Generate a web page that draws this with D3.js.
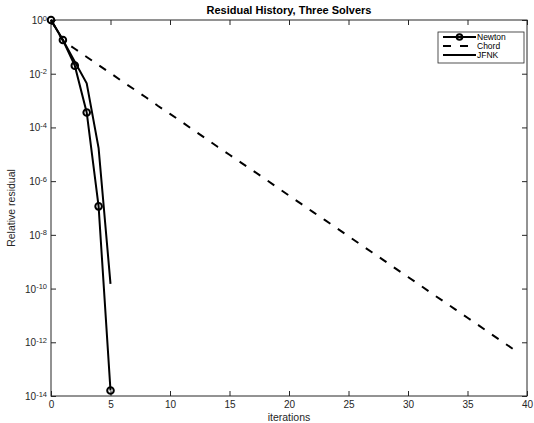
<!DOCTYPE html>
<html><head><meta charset="utf-8">
<script src="https://cdn.jsdelivr.net/npm/d3@7/dist/d3.min.js"></script>
<style>
body{margin:0;background:#fff;}
svg{display:block;font-family:"Liberation Sans",Arial,Helvetica,sans-serif;}
</style></head>
<body><svg id="c" width="534" height="423"></svg>
<script>
const iterNewton = [0,1,2,3,4,5];
const newton = [1, 0.18, 0.02, 3.6e-4, 1.15e-7, 1.6e-14];
const iterJFNK = [0,1,2,3,4,5];
const jfnk = [1, 0.18, 0.028, 4.4e-3, 1.7e-5, 1.5e-10];
const iterChord = [0,1,2,3,4,5,6,7,8,9,10,11,12,13,14,15,16,17,18,19,20,21,22,23,24,25,26,27,28,29,30,31,32,33,34,35,36,37,38,39];
const chord = [1, 0.17, 8.5e-2, 4.2e-2, 2.1e-2, 1.05e-2, 5.1e-3, 2.6e-3, 1.3e-3, 6.3e-4,
  3.2e-4, 1.6e-4, 7.8e-5, 3.9e-5, 1.9e-5, 9.6e-6, 4.8e-6, 2.4e-6, 1.2e-6, 5.9e-7,
  2.9e-7, 1.45e-7, 7.2e-8, 3.6e-8, 1.8e-8, 8.9e-9, 4.4e-9, 2.2e-9, 1.1e-9, 5.4e-10,
  2.7e-10, 1.35e-10, 6.6e-11, 3.3e-11, 1.65e-11, 8.2e-12, 4.1e-12, 2.0e-12, 1.0e-12, 5.0e-13];
const xTicks = [0,5,10,15,20,25,30,35,40];
const yTickExps = [0,-2,-4,-6,-8,-10,-12,-14];
const seriesNames = ["Newton","Chord","JFNK"];
const title = "Residual History, Three Solvers";
const xLabel = "iterations";
const yLabel = "Relative residual";

const L=51, R=527, T=20, B=396;
const axisColor="#262626";
const svg=d3.select("#c");
const x=d3.scaleLinear().domain([0,40]).range([L,R]);
const y=d3.scaleLog().domain([1e-14,1]).range([B,T]);

// frame
svg.append("rect").attr("x",L).attr("y",T).attr("width",R-L).attr("height",B-T)
  .attr("fill","none").attr("stroke",axisColor).attr("stroke-width",1);

// bottom axis
const gx=svg.append("g").attr("transform",`translate(0,${B})`)
  .call(d3.axisBottom(x).tickValues(xTicks).tickSizeInner(-5).tickSizeOuter(0).tickPadding(5).tickFormat(d3.format("d")));
gx.select(".domain").remove();
gx.selectAll("line").attr("stroke",axisColor);
gx.selectAll("text").attr("fill",axisColor).attr("font-size","10px").attr("font-family","Liberation Sans, Arial, sans-serif");
// top ticks
const gt=svg.append("g").attr("transform",`translate(0,${T})`)
  .call(d3.axisTop(x).tickValues(xTicks).tickSizeInner(-5).tickSizeOuter(0).tickFormat(""));
gt.select(".domain").remove();
gt.selectAll("line").attr("stroke",axisColor);

// left axis
const yTicks=yTickExps.map(e=>Math.pow(10,e));
const gy=svg.append("g").attr("transform",`translate(${L},0)`)
  .call(d3.axisLeft(y).tickValues(yTicks).tickSizeInner(-5).tickSizeOuter(0).tickFormat(""));
gy.select(".domain").remove();
gy.selectAll("line").attr("stroke",axisColor);
gy.selectAll(".tick").each(function(d,i){
  const t=d3.select(this).append("text").attr("fill",axisColor).attr("x",-4).attr("dy","0.35em")
    .attr("text-anchor","end").attr("font-size","10px").attr("font-family","Liberation Sans, Arial, sans-serif");
  t.append("tspan").text("10");
  t.append("tspan").attr("dy","-0.45em").attr("font-size","7.5px").text(String(yTickExps[i]));
});
const gr=svg.append("g").attr("transform",`translate(${R},0)`)
  .call(d3.axisRight(y).tickValues(yTicks).tickSizeInner(-5).tickSizeOuter(0).tickFormat(""));
gr.select(".domain").remove();
gr.selectAll("line").attr("stroke",axisColor);

// labels
svg.append("text").attr("x",(L+R)/2).attr("y",14).attr("text-anchor","middle")
  .attr("font-weight","bold").attr("font-size","11px").attr("fill","#000").text(title);
svg.append("text").attr("x",(L+R)/2).attr("y",421).attr("text-anchor","middle")
  .attr("font-size","10.5px").attr("fill",axisColor).text(xLabel);
svg.append("text").attr("transform",`translate(15,${(T+B)/2}) rotate(-90)`).attr("text-anchor","middle")
  .attr("font-size","10.5px").attr("fill",axisColor).text(yLabel);

const line=d3.line().x(d=>x(d[0])).y(d=>y(d[1]));
const plot=svg.append("g");
const nData=iterNewton.map((k,i)=>[k,newton[i]]);
const cData=iterChord.map((k,i)=>[k,chord[i]]);
const jData=iterJFNK.map((k,i)=>[k,jfnk[i]]);
plot.append("path").datum(cData).attr("d",line).attr("fill","none").attr("stroke","#000")
  .attr("stroke-width",2).attr("stroke-dasharray","8,9");
plot.append("path").datum(jData).attr("d",line).attr("fill","none").attr("stroke","#000").attr("stroke-width",2);
plot.append("path").datum(nData).attr("d",line).attr("fill","none").attr("stroke","#000").attr("stroke-width",2);
plot.selectAll("circle.n").data(nData).enter().append("circle").attr("class","n")
  .attr("cx",d=>x(d[0])).attr("cy",d=>y(d[1])).attr("r",3.3)
  .attr("fill","none").attr("stroke","#000").attr("stroke-width",2);

// legend
const lg=svg.append("g");
lg.append("rect").attr("x",438).attr("y",32).attr("width",86).attr("height",31)
  .attr("fill","#fff").attr("stroke",axisColor).attr("stroke-width",0.8);
const rows=[37,46,55];
seriesNames.forEach((n,i)=>{
  const ly=rows[i];
  const l=lg.append("line").attr("x1",443).attr("x2",476).attr("y1",ly).attr("y2",ly)
    .attr("stroke","#000").attr("stroke-width",2);
  if(n==="Chord") l.attr("stroke-dasharray","8,9");
  if(n==="Newton") lg.append("circle").attr("cx",459.5).attr("cy",ly).attr("r",2.8)
    .attr("fill","none").attr("stroke","#000").attr("stroke-width",2);
  lg.append("text").attr("x",477).attr("y",ly).attr("dy","0.35em").attr("font-size","8.5px")
    .attr("fill","#000").text(n);
});
</script></body></html>
